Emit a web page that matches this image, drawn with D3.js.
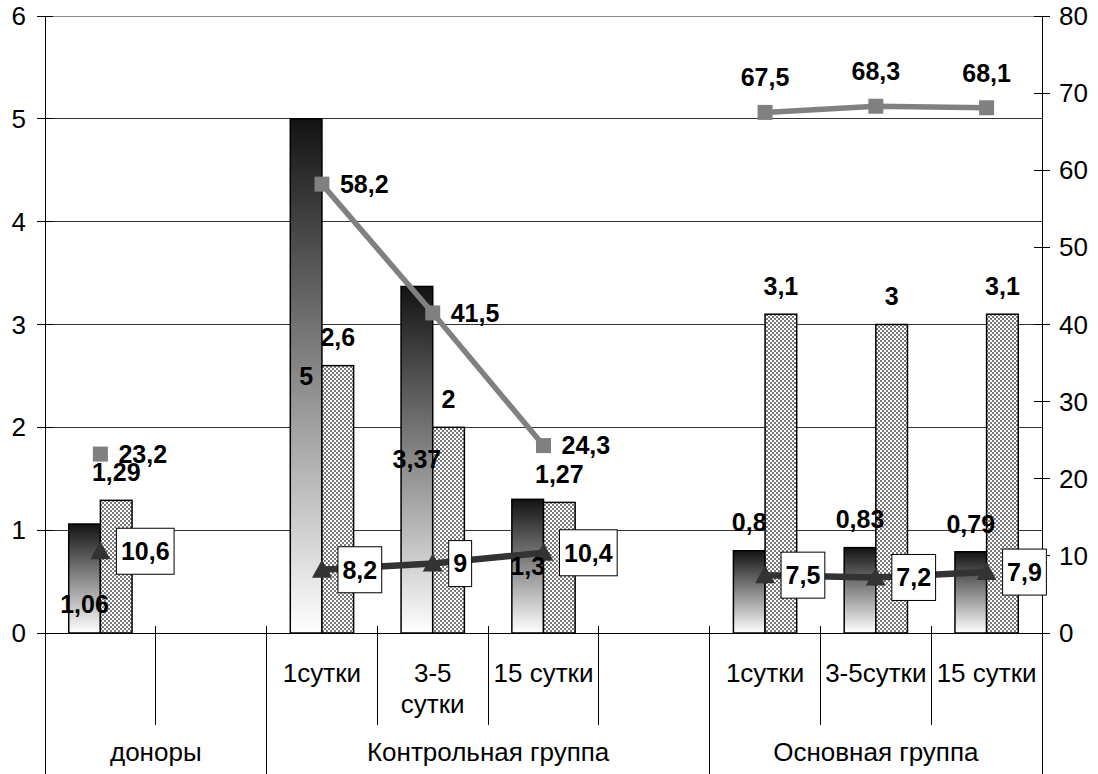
<!DOCTYPE html>
<html><head><meta charset="utf-8">
<script src="https://cdn.jsdelivr.net/npm/d3@7"></script>
<style>body{margin:0;background:#fff}svg{display:block}text{font-family:"Liberation Sans",Arial,sans-serif}</style>
</head><body><svg id="c" width="1098" height="774"></svg>
<script>
// ---- data ----
const subLabels = ["", "", "1сутки", "3-5\nсутки", "15 сутки", "", "1сутки", "3-5сутки", "15 сутки"];
const groupNames = ["доноры", "Контрольная группа", "Основная группа"];
const groupSpans = [2, 4, 3];
const barDark = [1.06, null, 5, 3.37, 1.3, null, 0.8, 0.83, 0.79];
const barPattern = [1.29, null, 2.6, 2, 1.27, null, 3.1, 3, 3.1];
const lineSquare = [23.2, null, 58.2, 41.5, 24.3, null, 67.5, 68.3, 68.1];
const lineTriangle = [10.6, null, 8.2, 9, 10.4, null, 7.5, 7.2, 7.9];
const leftTicks = [0, 1, 2, 3, 4, 5, 6];
const rightTicks = [0, 10, 20, 30, 40, 50, 60, 70, 80];
// label placement (style)
const darkLabelPos = ["base", "", "center", "center", "center", "", "end", "end", "end"];
const squareLabelPos = ["right", "", "right", "right", "right", "", "above", "above", "above"];

const svg = d3.select("#c");
const L = 45, R = 1042, T = 16, B = 633;
const FS = 26, FB = 25;
const x = d3.scaleBand().domain(d3.range(subLabels.length)).range([L, R]).padding(0);
const yL = d3.scaleLinear().domain([0, 6]).range([B, T]);
const yR = d3.scaleLinear().domain([0, 80]).range([B, T]);
const bw = x.bandwidth() * 0.2857;
const cx = i => x(i) + x.bandwidth() / 2;
const fmt = v => String(v).replace(".", ",");

const defs = svg.append("defs");
const g = defs.append("linearGradient").attr("id", "grad").attr("x1", 0).attr("y1", 0).attr("x2", 0).attr("y2", 1);
g.append("stop").attr("offset", 0).attr("stop-color", "#131313");
g.append("stop").attr("offset", 1).attr("stop-color", "#ffffff");
const p = defs.append("pattern").attr("id", "pat").attr("width", 4).attr("height", 4).attr("patternUnits", "userSpaceOnUse");
p.append("rect").attr("width", 4).attr("height", 4).attr("fill", "#fff");
p.append("rect").attr("width", 2).attr("height", 2).attr("fill", "#7a7a7a");
p.append("rect").attr("x", 2).attr("y", 2).attr("width", 2).attr("height", 2).attr("fill", "#7a7a7a");

// gridlines
svg.append("g").selectAll("line").data(leftTicks.filter(t => t > 0)).join("line")
  .attr("x1", L).attr("x2", R).attr("y1", d => yL(d)).attr("y2", d => yL(d))
  .attr("stroke", d => d === 6 ? "#8a8a8a" : "#333").attr("stroke-width", 1).attr("shape-rendering", "crispEdges");

// left axis
const la = svg.append("g");
la.append("line").attr("x1", L).attr("x2", L).attr("y1", T).attr("y2", 774).attr("stroke", "#000").attr("shape-rendering", "crispEdges");
la.selectAll(".t").data(leftTicks).join("line").attr("class", "t")
  .attr("x1", L - 8).attr("x2", L + 8).attr("y1", d => yL(d)).attr("y2", d => yL(d)).attr("stroke", "#000").attr("shape-rendering", "crispEdges");
la.selectAll("text").data(leftTicks).join("text")
  .attr("x", L - 19).attr("y", d => yL(d)).attr("dy", "0.35em").attr("text-anchor", "end")
  .attr("font-size", FS).text(d => d);

// right axis
const ra = svg.append("g");
ra.append("line").attr("x1", R).attr("x2", R).attr("y1", T).attr("y2", 774).attr("stroke", "#000").attr("shape-rendering", "crispEdges");
ra.selectAll(".t").data(rightTicks).join("line").attr("class", "t")
  .attr("x1", R - 8).attr("x2", R + 8).attr("y1", d => yR(d)).attr("y2", d => yR(d)).attr("stroke", "#000").attr("shape-rendering", "crispEdges");
ra.selectAll("text").data(rightTicks).join("text")
  .attr("x", R + 17).attr("y", d => yR(d)).attr("dy", "0.35em").attr("text-anchor", "start")
  .attr("font-size", FS).text(d => d);

// bars
const bars = svg.append("g");
bars.selectAll(".d").data(barDark.map((v, i) => ({v, i})).filter(d => d.v != null)).join("rect")
  .attr("x", d => cx(d.i) - bw).attr("y", d => yL(d.v)).attr("width", bw).attr("height", d => B - yL(d.v))
  .attr("fill", "url(#grad)").attr("stroke", "#000").attr("stroke-width", 1.5);
bars.selectAll(".p").data(barPattern.map((v, i) => ({v, i})).filter(d => d.v != null)).join("rect")
  .attr("x", d => cx(d.i)).attr("y", d => yL(d.v)).attr("width", bw).attr("height", d => B - yL(d.v))
  .attr("fill", "url(#pat)").attr("stroke", "#000").attr("stroke-width", 1.5);

// x axis baseline
svg.append("line").attr("x1", L).attr("x2", R).attr("y1", B).attr("y2", B).attr("stroke", "#000").attr("shape-rendering", "crispEdges");

// category ticks
const groupBounds = [0];
groupSpans.forEach((s, k) => groupBounds.push(groupBounds[k] + s));
const xb = i => L + i * x.bandwidth();
const inner = d3.range(1, subLabels.length).filter(i => !groupBounds.includes(i));
svg.append("g").selectAll("line").data(inner).join("line")
  .attr("x1", d => xb(d)).attr("x2", d => xb(d)).attr("y1", B - 7).attr("y2", 725).attr("stroke", "#000").attr("shape-rendering", "crispEdges");
svg.append("g").selectAll("line").data(groupBounds.slice(1, -1)).join("line")
  .attr("x1", d => xb(d)).attr("x2", d => xb(d)).attr("y1", B - 7).attr("y2", 774).attr("stroke", "#000").attr("shape-rendering", "crispEdges");

// sub labels
const sl = svg.append("g");
subLabels.forEach((s, i) => {
  if (!s) return;
  const t = sl.append("text").attr("x", cx(i)).attr("y", 682).attr("text-anchor", "middle").attr("font-size", FS);
  s.split("\n").forEach((ln, k) => t.append("tspan").attr("x", cx(i)).attr("dy", k ? 31 : 0).text(ln));
});
// group labels
svg.append("g").selectAll("text").data(groupNames).join("text")
  .attr("x", (d, k) => (xb(groupBounds[k]) + xb(groupBounds[k + 1])) / 2).attr("y", 761)
  .attr("text-anchor", "middle").attr("font-size", FS).text(d => d);

// lines
const lineGen = d3.line().defined(d => d.v != null).x(d => cx(d.i)).y(d => yR(d.v));
const sq = lineSquare.map((v, i) => ({v, i}));
const tr = lineTriangle.map((v, i) => ({v, i}));
svg.append("path").attr("d", lineGen(sq)).attr("fill", "none").attr("stroke", "#808080").attr("stroke-width", 5.5);
svg.append("g").selectAll("rect").data(sq.filter(d => d.v != null)).join("rect")
  .attr("x", d => cx(d.i) - 7.5).attr("y", d => yR(d.v) - 7.5).attr("width", 15).attr("height", 15).attr("fill", "#808080");
svg.append("path").attr("d", lineGen(tr)).attr("fill", "none").attr("stroke", "#333").attr("stroke-width", 6.5);
svg.append("g").selectAll("path").data(tr.filter(d => d.v != null)).join("path")
  .attr("d", d => { const X = cx(d.i), Y = yR(d.v); return `M${X - 10},${Y + 8}L${X},${Y - 10}L${X + 10},${Y + 8}Z`; })
  .attr("fill", "#333");

// labels
const lab = svg.append("g").attr("font-weight", "bold").attr("font-size", FB);
barDark.forEach((v, i) => {
  if (v == null) return;
  const top = yL(v);
  let y = darkLabelPos[i] === "center" ? (top + B) / 2 : darkLabelPos[i] === "base" ? B - 29 : top - 28;
  lab.append("text").attr("x", cx(i) - bw / 2).attr("y", y).attr("dy", "0.35em").attr("text-anchor", "middle").text(fmt(v));
});
barPattern.forEach((v, i) => {
  if (v == null) return;
  lab.append("text").attr("x", cx(i) + bw / 2).attr("y", yL(v) - 28).attr("dy", "0.35em").attr("text-anchor", "middle").text(fmt(v));
});
lineSquare.forEach((v, i) => {
  if (v == null) return;
  const X = cx(i), Y = yR(v);
  if (squareLabelPos[i] === "right")
    lab.append("text").attr("x", X + 18).attr("y", Y).attr("dy", "0.35em").attr("text-anchor", "start").text(fmt(v));
  else
    lab.append("text").attr("x", X).attr("y", Y - 35).attr("dy", "0.35em").attr("text-anchor", "middle").text(fmt(v));
});
lineTriangle.forEach((v, i) => {
  if (v == null) return;
  const X = cx(i), Y = yR(v);
  const gg = lab.append("g");
  const r = gg.append("rect").attr("fill", "#fff").attr("stroke", "#000").attr("stroke-width", 1);
  const t = gg.append("text").attr("y", Y).attr("dy", "0.35em").attr("text-anchor", "middle").text(fmt(v));
  const w = t.node().getComputedTextLength() + 9;
  r.attr("x", X + 16).attr("y", Y - 23).attr("width", w).attr("height", 46);
  t.attr("x", X + 16 + w / 2);
});
</script></body></html>
